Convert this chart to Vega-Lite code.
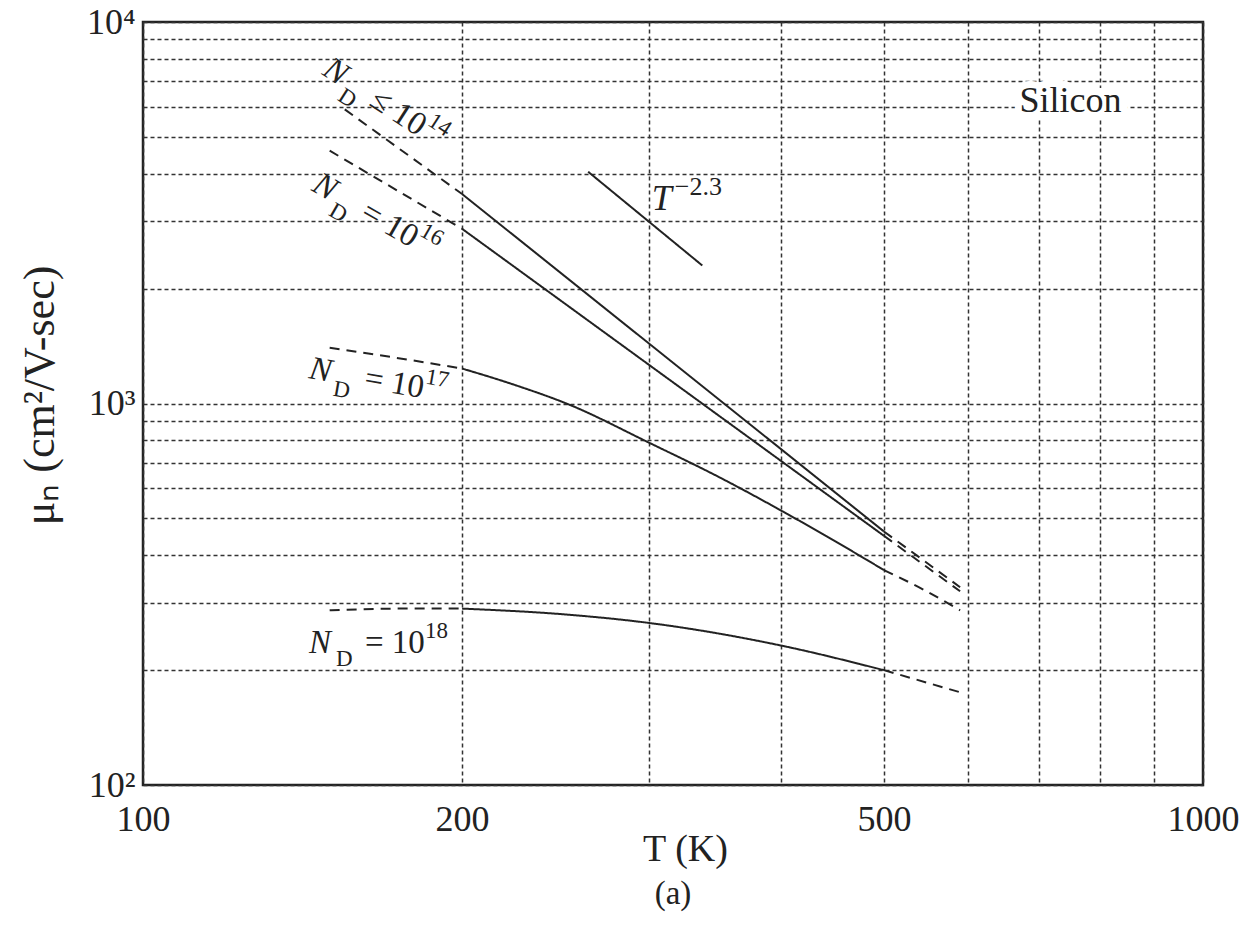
{
  "$schema": "https://vega.github.io/schema/vega-lite/v6.json",
  "width": 1060,
  "height": 763,
  "autosize": "none",
  "padding": {"left": 143, "top": 22, "right": 53, "bottom": 141},
  "background": "white",
  "config": {
    "view": {"stroke": "#222", "strokeWidth": 2.5},
    "font": "Liberation Serif",
    "text": {"font": "Liberation Serif", "color": "#222"},
    "axis": {"labelFont": "Liberation Serif", "titleFont": "Liberation Serif"}
  },
  "title": {"text": "(a)", "orient": "bottom", "fontSize": 33, "font": "Liberation Serif", "fontWeight": "normal", "color": "#222", "offset": 10},
  "datasets": {
    "curves": [
      {"seg": "14a", "style": "dashed", "T": 155, "mu": 5900},
      {"seg": "14a", "style": "dashed", "T": 200, "mu": 3540},
      {"seg": "14b", "style": "solid", "T": 200, "mu": 3540},
      {"seg": "14b", "style": "solid", "T": 500, "mu": 462},
      {"seg": "14c", "style": "dashed", "T": 500, "mu": 462},
      {"seg": "14c", "style": "dashed", "T": 590, "mu": 330},
      {"seg": "16a", "style": "dashed", "T": 150, "mu": 4600},
      {"seg": "16a", "style": "dashed", "T": 200, "mu": 2870},
      {"seg": "16b", "style": "solid", "T": 200, "mu": 2870},
      {"seg": "16b", "style": "solid", "T": 500, "mu": 450},
      {"seg": "16c", "style": "dashed", "T": 500, "mu": 450},
      {"seg": "16c", "style": "dashed", "T": 590, "mu": 322},
      {"seg": "17a", "style": "dashed", "T": 150, "mu": 1400},
      {"seg": "17a", "style": "dashed", "T": 180, "mu": 1296},
      {"seg": "17a", "style": "dashed", "T": 200, "mu": 1235},
      {"seg": "17b", "style": "solid", "T": 200, "mu": 1235},
      {"seg": "17b", "style": "solid", "T": 225, "mu": 1115},
      {"seg": "17b", "style": "solid", "T": 252, "mu": 995},
      {"seg": "17b", "style": "solid", "T": 300, "mu": 790},
      {"seg": "17b", "style": "solid", "T": 350, "mu": 640},
      {"seg": "17b", "style": "solid", "T": 400, "mu": 524},
      {"seg": "17b", "style": "solid", "T": 450, "mu": 435},
      {"seg": "17b", "style": "solid", "T": 500, "mu": 366},
      {"seg": "17c", "style": "dashed", "T": 500, "mu": 366},
      {"seg": "17c", "style": "dashed", "T": 545, "mu": 325},
      {"seg": "17c", "style": "dashed", "T": 590, "mu": 287},
      {"seg": "18a", "style": "dashed", "T": 150, "mu": 287},
      {"seg": "18a", "style": "dashed", "T": 175, "mu": 290},
      {"seg": "18a", "style": "dashed", "T": 200, "mu": 290},
      {"seg": "18b", "style": "solid", "T": 200, "mu": 290},
      {"seg": "18b", "style": "solid", "T": 250, "mu": 280},
      {"seg": "18b", "style": "solid", "T": 300, "mu": 266},
      {"seg": "18b", "style": "solid", "T": 400, "mu": 232},
      {"seg": "18b", "style": "solid", "T": 500, "mu": 200},
      {"seg": "18c", "style": "dashed", "T": 500, "mu": 200},
      {"seg": "18c", "style": "dashed", "T": 590, "mu": 175},
      {"seg": "T23", "style": "solid", "T": 263, "mu": 4050},
      {"seg": "T23", "style": "solid", "T": 337, "mu": 2300}
    ],
    "labels": [
      {"T": 147.2, "mu": 7306, "ang": 33, "n": "N", "sub": "D", "rest": "≤ 10", "sup": "14"},
      {"T": 143.9, "mu": 3627, "ang": 30, "n": "N", "sub": "D", "rest": "= 10", "sup": "16"},
      {"T": 143.1, "mu": 1166, "ang": 10, "n": "N", "sub": "D", "rest": "= 10", "sup": "17"},
      {"T": 143.4, "mu": 222, "ang": 0, "n": "N", "sub": "D", "rest": "= 10", "sup": "18"}
    ],
    "tlabel": [
      {"T": 302, "mu": 3215, "base": "T", "sup": "−2.3"}
    ],
    "material": [
      {"T": 750, "mu": 6200, "name": "Silicon"}
    ]
  },
  "layer": [
    {
      "data": {"name": "curves"},
      "mark": {"type": "line", "strokeWidth": 2, "color": "#222", "interpolate": "monotone"},
      "encoding": {
        "x": {
          "field": "T", "type": "quantitative",
          "scale": {"type": "log", "domain": [100, 1000]},
          "axis": {
            "values": [100, 200, 300, 400, 500, 600, 700, 800, 900, 1000],
            "labelExpr": "(datum.value == 100 || datum.value == 200 || datum.value == 500 || datum.value == 1000) ? format(datum.value, 'd') : ''",
            "ticks": false, "domain": false,
            "grid": true, "gridDash": [4, 3], "gridColor": "#333", "gridWidth": 1.5,
            "labelFontSize": 36, "labelColor": "#222", "labelPadding": 17, "labelDx": 8,
            "labelFlush": false, "labelOverlap": false,
            "title": "T (K)", "titleFontSize": 38, "titleFontWeight": "normal", "titleColor": "#222",
            "titleX": 542, "titleY": 64, "titleBaseline": "middle"
          }
        },
        "y": {
          "field": "mu", "type": "quantitative",
          "scale": {"type": "log", "domain": [100, 10000]},
          "axis": {
            "values": [100, 200, 300, 400, 500, 600, 700, 800, 900, 1000, 2000, 3000, 4000, 5000, 6000, 7000, 8000, 9000, 10000],
            "labelExpr": "datum.value == 100 ? '10²' : datum.value == 1000 ? '10³' : datum.value == 10000 ? '10⁴' : ''",
            "ticks": false, "domain": false,
            "grid": true, "gridDash": [4, 3], "gridColor": "#333", "gridWidth": 1.5,
            "labelFontSize": 36, "labelColor": "#222", "labelPadding": 8,
            "labelBaseline": "middle", "labelOverlap": false, "labelFlush": false,
            "title": "μₙ (cm²/V-sec)", "titleFontSize": 44, "titleFontWeight": "normal", "titleColor": "#222",
            "titleX": -103, "titleY": 373, "titleAngle": -90, "titleBaseline": "middle", "titleAlign": "center"
          }
        },
        "detail": {"field": "seg"},
        "strokeDash": {
          "field": "style", "type": "nominal",
          "scale": {"domain": ["solid", "dashed"], "range": [[1, 0], [10, 7]]},
          "legend": null
        },
        "order": {"field": "T", "type": "quantitative"}
      }
    },
    {
      "mark": {"type": "rule", "color": "#222", "strokeWidth": 2},
      "encoding": {"y": {"datum": 1000}}
    },
    {
      "data": {"name": "labels"},
      "mark": {"type": "text", "fontSize": 33, "fontStyle": "italic", "align": "left", "baseline": "alphabetic"},
      "encoding": {
        "x": {"field": "T", "type": "quantitative"},
        "y": {"field": "mu", "type": "quantitative"},
        "text": {"field": "n"},
        "angle": {"field": "ang", "type": "quantitative", "scale": null}
      }
    },
    {
      "data": {"name": "labels"},
      "mark": {"type": "text", "fontSize": 23, "align": "left", "baseline": "alphabetic", "dx": 27, "dy": 13},
      "encoding": {
        "x": {"field": "T", "type": "quantitative"},
        "y": {"field": "mu", "type": "quantitative"},
        "text": {"field": "sub"},
        "angle": {"field": "ang", "type": "quantitative", "scale": null}
      }
    },
    {
      "data": {"name": "labels"},
      "mark": {"type": "text", "fontSize": 33, "align": "left", "baseline": "alphabetic", "dx": 56},
      "encoding": {
        "x": {"field": "T", "type": "quantitative"},
        "y": {"field": "mu", "type": "quantitative"},
        "text": {"field": "rest"},
        "angle": {"field": "ang", "type": "quantitative", "scale": null}
      }
    },
    {
      "data": {"name": "labels"},
      "mark": {"type": "text", "fontSize": 23, "align": "left", "baseline": "alphabetic", "dx": 116, "dy": -15},
      "encoding": {
        "x": {"field": "T", "type": "quantitative"},
        "y": {"field": "mu", "type": "quantitative"},
        "text": {"field": "sup"},
        "angle": {"field": "ang", "type": "quantitative", "scale": null}
      }
    },
    {
      "data": {"name": "tlabel"},
      "mark": {"type": "text", "fontSize": 36, "fontStyle": "italic", "align": "left", "baseline": "alphabetic"},
      "encoding": {
        "x": {"field": "T", "type": "quantitative"},
        "y": {"field": "mu", "type": "quantitative"},
        "text": {"field": "base"}
      }
    },
    {
      "data": {"name": "tlabel"},
      "mark": {"type": "text", "fontSize": 26, "align": "left", "baseline": "alphabetic", "dx": 23, "dy": -15},
      "encoding": {
        "x": {"field": "T", "type": "quantitative"},
        "y": {"field": "mu", "type": "quantitative"},
        "text": {"field": "sup"}
      }
    },
    {
      "data": {"name": "material"},
      "mark": {"type": "text", "fontSize": 36, "align": "center", "baseline": "middle", "stroke": "white", "strokeWidth": 14, "color": "white"},
      "encoding": {
        "x": {"field": "T", "type": "quantitative"},
        "y": {"field": "mu", "type": "quantitative"},
        "text": {"field": "name"}
      }
    },
    {
      "data": {"name": "material"},
      "mark": {"type": "text", "fontSize": 36, "align": "center", "baseline": "middle"},
      "encoding": {
        "x": {"field": "T", "type": "quantitative"},
        "y": {"field": "mu", "type": "quantitative"},
        "text": {"field": "name"}
      }
    }
  ]
}
